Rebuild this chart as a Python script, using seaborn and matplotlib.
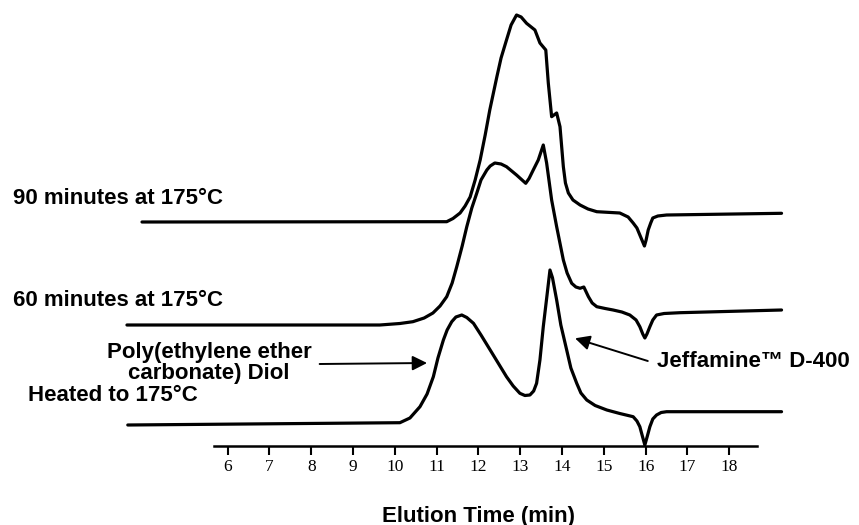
import numpy as np
import pandas as pd
import matplotlib.pyplot as plt
import seaborn as sns

# elution times (min) and detector signal (arbitrary units)
heated_time = [3.61, 10.12, 10.36, 10.60, 10.77, 10.92, 11.03, 11.16, 11.25, 11.36,
               11.46, 11.60, 11.72, 11.88, 12.06, 12.28, 12.47, 12.67, 12.83, 12.99,
               13.11, 13.23, 13.32, 13.39, 13.47, 13.55, 13.64, 13.71, 13.77, 13.87,
               13.97, 14.11, 14.21, 14.35, 14.45, 14.59, 14.79, 15.07, 15.38, 15.70,
               15.79, 15.86, 15.92, 15.98, 16.04, 16.10, 16.17, 16.26, 16.37, 16.50,
               19.25]
heated_signal = [20.7, 23.0, 27.7, 39.0, 51.7, 69.0, 87.7, 105.7, 115.7, 124.0,
                 128.7, 130.7, 128.2, 122.4, 110.7, 95.7, 82.7, 69.0, 59.7, 52.4,
                 50.2, 50.7, 54.7, 62.4, 85.7, 119.0, 150.7, 175.7, 168.0, 145.7,
                 120.7, 95.7, 77.7, 62.4, 52.7, 45.7, 40.2, 35.7, 32.2, 29.0,
                 24.7, 19.0, 9.7, 0.7, 9.7, 19.0, 26.7, 30.7, 33.2, 34.0,
                 34.0]

min60_time = [3.59, 9.64, 10.12, 10.43, 10.70, 10.91, 11.08, 11.24, 11.37, 11.48,
              11.61, 11.72, 11.84, 11.96, 12.06, 12.20, 12.28, 12.39, 12.54, 12.67,
              12.91, 13.13, 13.21, 13.31, 13.43, 13.55, 13.63, 13.75, 13.87, 14.03,
              14.12, 14.23, 14.33, 14.43, 14.52, 14.63, 14.72, 14.83, 15.03, 15.22,
              15.43, 15.62, 15.77, 15.86, 15.93, 15.98, 16.03, 16.10, 16.17, 16.26,
              16.44, 16.82, 19.25]
min60_signal = [120.7, 120.7, 122.2, 124.0, 127.7, 132.7, 139.7, 149.0, 162.7, 179.0,
                199.7, 219.0, 237.7, 252.7, 265.7, 275.7, 279.7, 282.7, 281.7, 279.0,
                270.7, 262.4, 267.2, 275.7, 285.7, 300.7, 282.7, 245.7, 219.0, 185.7,
                172.7, 162.4, 158.7, 157.4, 158.7, 149.0, 142.7, 139.0, 137.2, 135.7,
                133.7, 130.7, 125.7, 119.0, 111.7, 107.7, 111.7, 119.0, 125.7, 130.7,
                132.2, 133.0, 135.7]

min90_time = [3.95, 11.24, 11.39, 11.56, 11.68, 11.80, 11.92, 12.04, 12.16, 12.27,
              12.44, 12.54, 12.67, 12.78, 12.91, 13.02, 13.15, 13.35, 13.47, 13.61,
              13.67, 13.75, 13.87, 13.95, 14.03, 14.08, 14.15, 14.26, 14.43, 14.62,
              14.83, 15.38, 15.58, 15.70, 15.79, 15.86, 15.92, 15.97, 16.01, 16.06,
              16.12, 16.17, 16.29, 16.50, 19.25]
min90_signal = [223.7, 224.0, 227.2, 232.7, 239.7, 248.7, 265.7, 285.7, 310.7, 335.7,
                369.0, 387.7, 405.7, 420.7, 430.7, 428.7, 422.4, 415.7, 402.7, 395.7,
                362.7, 329.0, 332.7, 319.0, 279.0, 262.7, 252.7, 245.7, 240.7, 236.7,
                234.0, 232.7, 228.7, 222.7, 217.7, 210.7, 204.7, 199.7, 205.7, 215.7,
                222.7, 227.7, 229.7, 230.7, 232.4]

tick_values = list(range(6, 19))

sns.set_style("white")
plt.rcParams['font.family'] = ['Liberation Sans', 'DejaVu Sans']

fig = plt.figure(figsize=(8.59, 5.25), dpi=100)
ax = fig.add_axes([0, 0, 1, 1])

traces = [(heated_time, heated_signal), (min60_time, min60_signal), (min90_time, min90_signal)]
for t, s in traces:
    df = pd.DataFrame({"time": t, "signal": s})
    sns.lineplot(data=df, x="time", y="signal", ax=ax, color="black", lw=2.3,
                 sort=False, estimator=None, legend=False,
                 solid_joinstyle="round", solid_capstyle="round")

ax.set_xlim(0.553, 21.103)
ax.set_ylim(-79.3, 445.7)

# only the time axis is drawn
for side in ["top", "right", "left"]:
    ax.spines[side].set_visible(False)
ax.spines["bottom"].set_position(("data", 0))
ax.spines["bottom"].set_bounds(5.67, 18.66)
ax.spines["bottom"].set_linewidth(1.8)
ax.spines["bottom"].set_color("black")
ax.set_yticks([])
ax.set_xticks(tick_values)
ax.set_xticklabels([str(v) for v in tick_values], family=['Liberation Serif'], fontsize=12.5)
ax.tick_params(axis="x", bottom=True, direction="out", length=6.5, width=1.5, pad=3,
               colors="black")
ax.set_xlabel("")
ax.set_ylabel("")

lab = dict(fontsize=16, fontweight="bold", color="black", va="center")
ax.text(0.864, 247.2, "90 minutes at 175°C", ha="left", **lab)
ax.text(0.864, 145.0, "60 minutes at 175°C", ha="left", **lab)
ax.text(1.22, 50.0, "Heated to 175°C", ha="left", **lab)
ax.text(5.55, 82.4, "Poly(ethylene ether\ncarbonate) Diol", ha="center",
        multialignment="center", linespacing=1.0, **lab)
ax.text(16.26, 84.0, "Jeffamine™ D-400", ha="left", **lab)
ax.text(11.99, -70.5, "Elution Time (min)", ha="center", **lab)

arrow = dict(arrowstyle="-|>", color="black", lw=1.4, mutation_scale=22, shrinkA=0, shrinkB=0)
ax.annotate("", xy=(10.77, 82.7), xytext=(8.20, 81.7), arrowprops=arrow)
ax.annotate("", xy=(14.31, 107.4), xytext=(16.05, 84.7), arrowprops=arrow)

fig.savefig("out.png", dpi=100)
plt.close(fig)
